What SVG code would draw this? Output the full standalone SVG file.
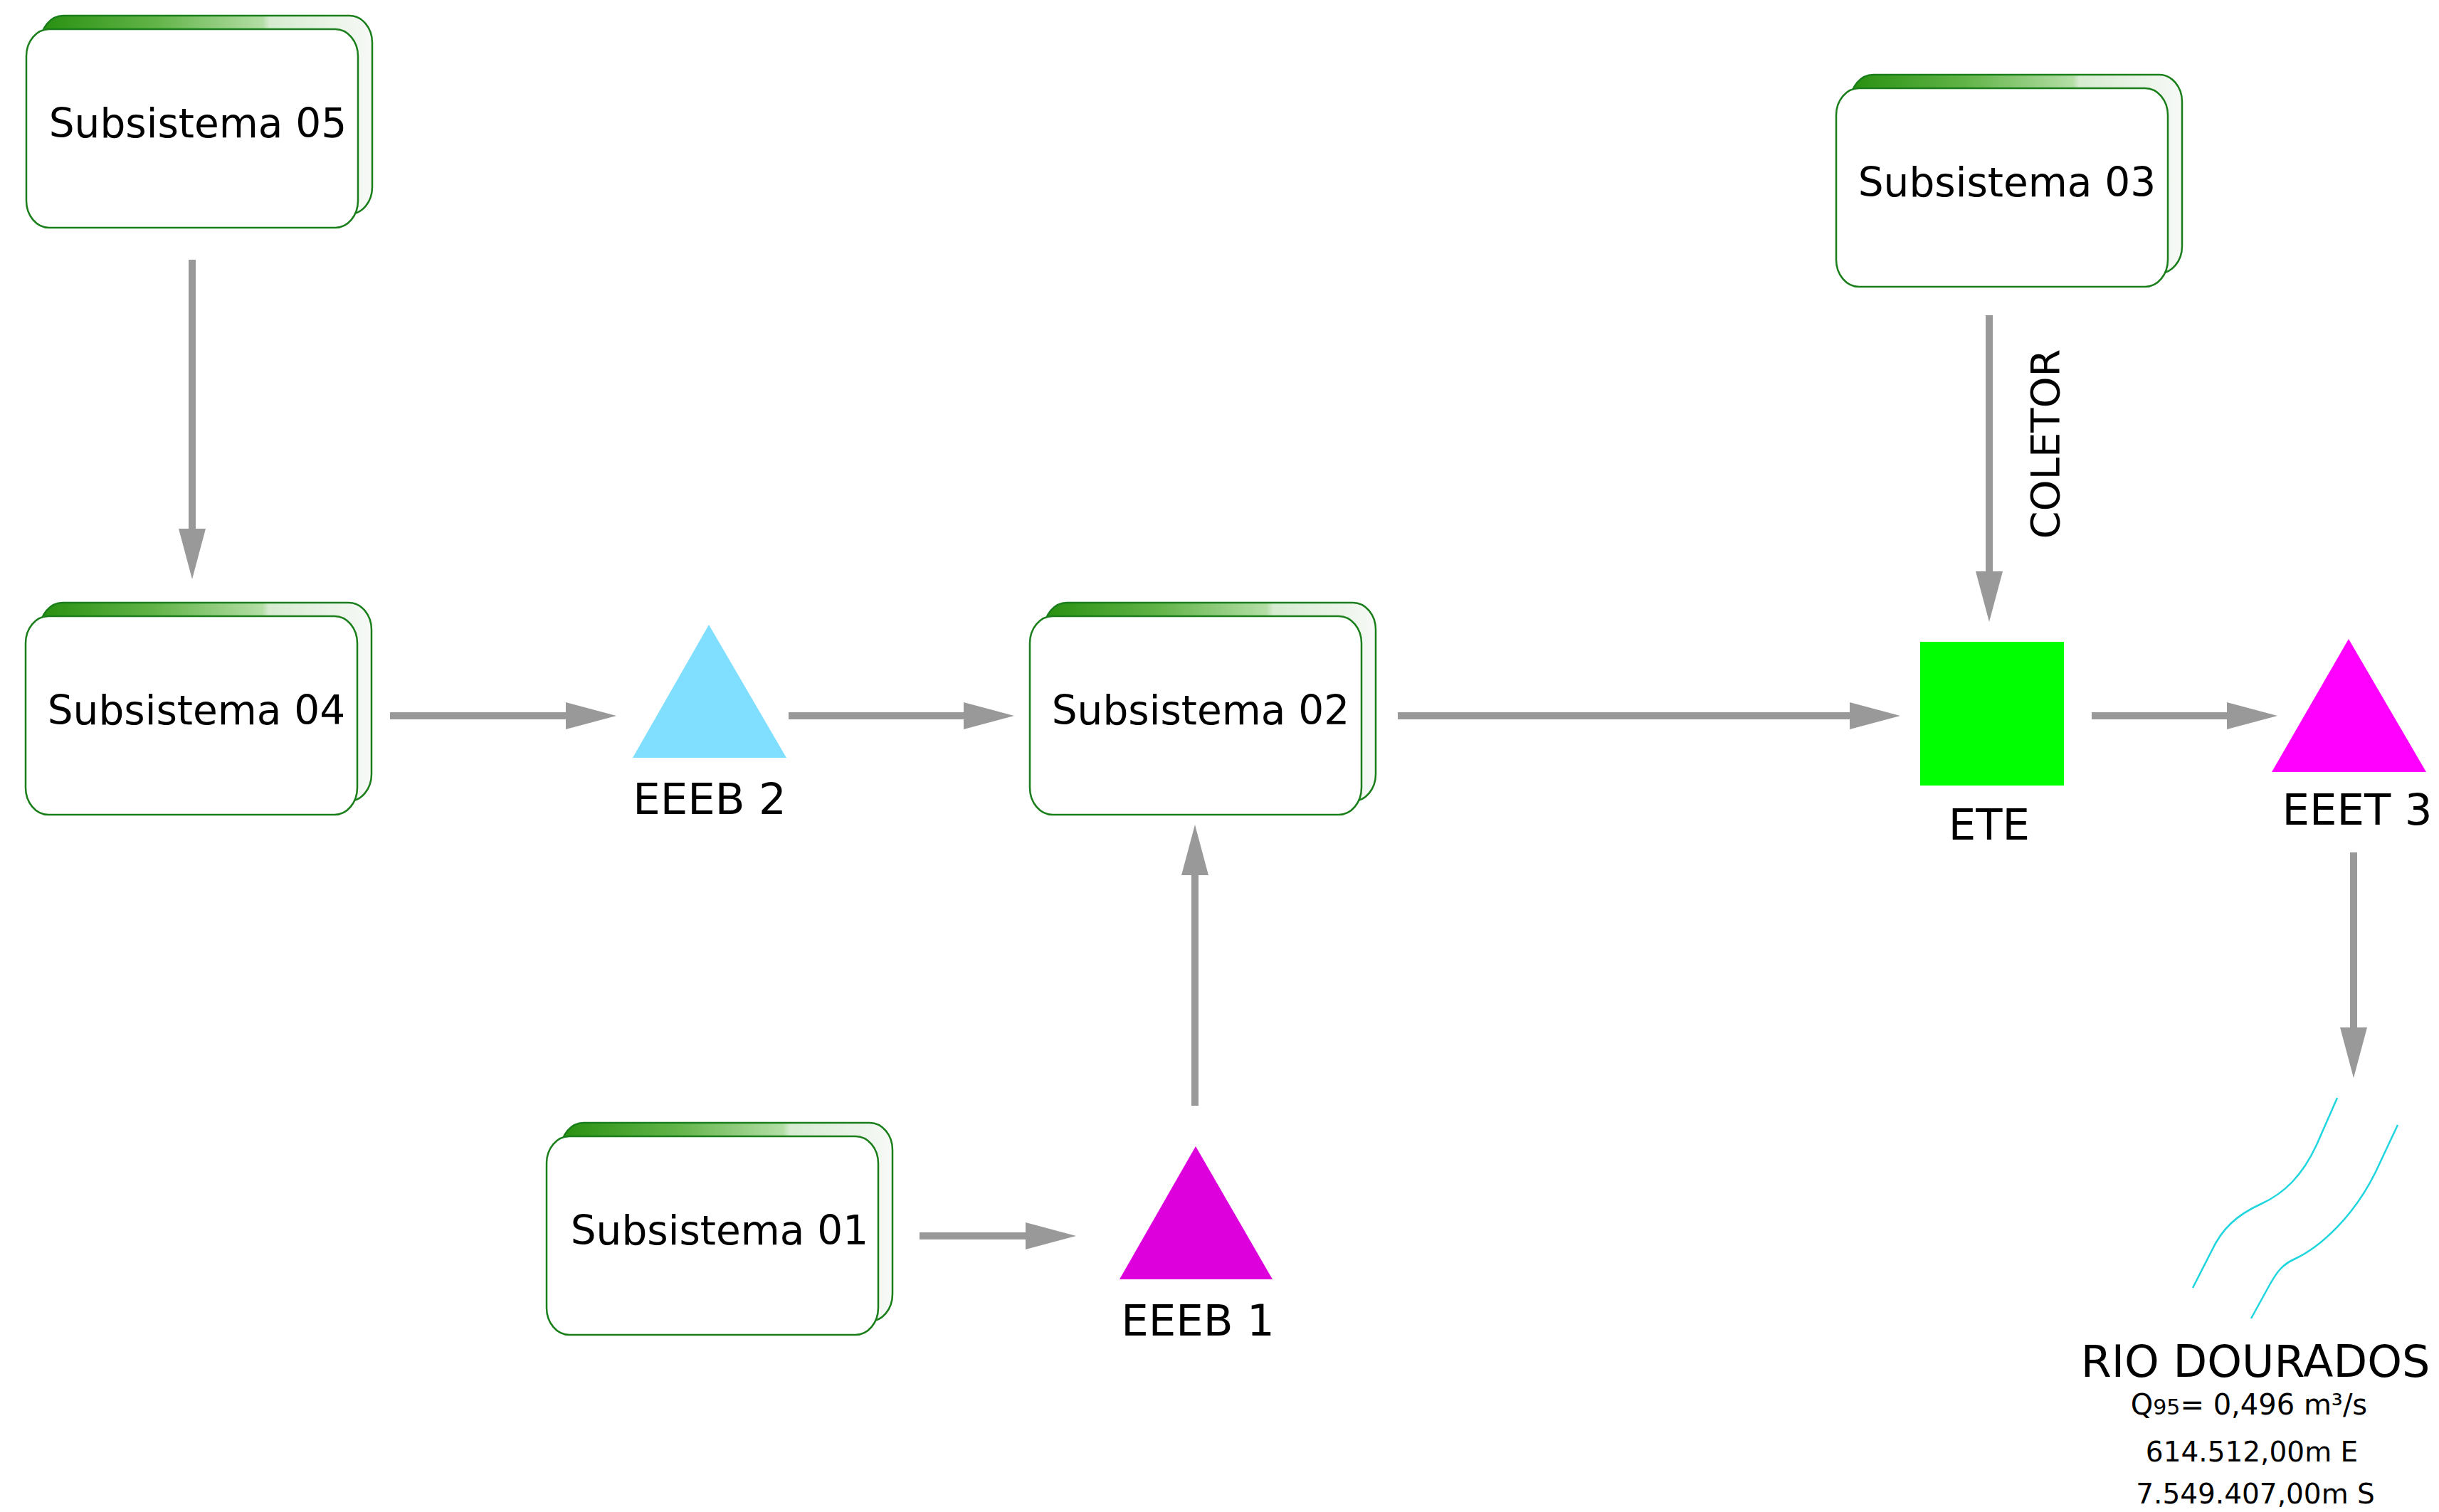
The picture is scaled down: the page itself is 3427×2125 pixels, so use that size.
<svg xmlns="http://www.w3.org/2000/svg" width="3427" height="2125" viewBox="0 0 3427 2125">
<defs>
<linearGradient id="bk" x1="0" y1="0" x2="1" y2="0">
<stop offset="0" stop-color="#289010"/>
<stop offset="0.35" stop-color="#62b448"/>
<stop offset="0.67" stop-color="#b4dea6"/>
<stop offset="0.69" stop-color="#d6ebd0"/>
<stop offset="1" stop-color="#f7f9f7"/>
</linearGradient>
<marker id="ah" markerUnits="userSpaceOnUse" markerWidth="72" markerHeight="40" refX="0" refY="19" orient="auto" viewBox="0 0 72 40">
<path d="M0,0 L71,19 L0,38 Z" fill="#999999"/>
</marker>
<style>
.back{fill:url(#bk);stroke:#1a7f1a;stroke-width:2.5}
.front{fill:#ffffff;stroke:#1a7f1a;stroke-width:2.5}
.lbl{font-family:"DejaVu Sans","Liberation Sans",sans-serif;fill:#000000}
.sub{font-size:56.5px;text-anchor:middle}
.node{font-size:61px;text-anchor:middle}
.conn{stroke:#999999;stroke-width:10;fill:none;marker-end:url(#ah)}
.river{stroke:#1fd6de;stroke-width:2.5;fill:none}
</style>
</defs>
<rect width="3427" height="2125" fill="#ffffff"/>

<g id="subsistema05">
<rect class="back" x="57" y="22" width="466" height="279" rx="32" ry="38"/>
<rect class="front" x="37" y="41" width="466" height="279" rx="32" ry="38"/>
<text class="lbl sub" x="278" y="193">Subsistema 05</text>
</g>
<g id="subsistema04">
<rect class="back" x="56" y="847" width="466" height="279" rx="32" ry="38"/>
<rect class="front" x="36" y="866" width="466" height="279" rx="32" ry="38"/>
<text class="lbl sub" x="276" y="1018">Subsistema 04</text>
</g>
<g id="subsistema02">
<rect class="back" x="1467" y="847" width="466" height="279" rx="32" ry="38"/>
<rect class="front" x="1447" y="866" width="466" height="279" rx="32" ry="38"/>
<text class="lbl sub" x="1687" y="1018">Subsistema 02</text>
</g>
<g id="subsistema03">
<rect class="back" x="2600" y="105" width="466" height="279" rx="32" ry="38"/>
<rect class="front" x="2580" y="124" width="466" height="279" rx="32" ry="38"/>
<text class="lbl sub" x="2820" y="276">Subsistema 03</text>
</g>
<g id="subsistema01">
<rect class="back" x="788" y="1578" width="466" height="279" rx="32" ry="38"/>
<rect class="front" x="768" y="1597" width="466" height="279" rx="32" ry="38"/>
<text class="lbl sub" x="1011" y="1749">Subsistema 01</text>
</g>

<g id="eeeb2">
<polygon points="996,878 889,1065 1105,1065" fill="#80dfff"/>
<text class="lbl node" x="997" y="1144">EEEB 2</text>
</g>
<g id="eeeb1">
<polygon points="1680,1611 1573,1798 1788,1798" fill="#dd00dd"/>
<text class="lbl node" x="1683" y="1877">EEEB 1</text>
</g>
<g id="ete">
<rect x="2698" y="902" width="202" height="202" fill="#00ff00"/>
<text class="lbl node" x="2795" y="1180">ETE</text>
</g>
<g id="eeet3">
<polygon points="3300,898 3192,1085 3409,1085" fill="#ff00ff"/>
<text class="lbl node" x="3312" y="1159">EEET 3</text>
</g>
<g id="rio">
<path class="river" d="M3284,1543 L3255,1609 C3235,1652 3210,1677 3177,1692 C3142,1708 3122,1727 3107,1759 L3081,1810"/>
<path class="river" d="M3369,1581 L3338,1647 C3308,1708 3262,1752 3223,1770 C3205,1778 3197,1792 3190,1804 L3163,1853"/>
<text class="lbl" x="3169" y="1935" font-size="62" text-anchor="middle">RIO DOURADOS</text>
<text class="lbl" x="3160" y="1988" font-size="40" text-anchor="middle">Q<tspan font-size="30">95</tspan>= 0,496 m³/s</text>
<text class="lbl" x="3164" y="2054" font-size="39" text-anchor="middle">614.512,00m E</text>
<text class="lbl" x="3169" y="2113" font-size="39" text-anchor="middle">7.549.407,00m S</text>
</g>

<g id="connectors">
<line class="conn" x1="270" y1="365" x2="270" y2="743"/>
<line class="conn" x1="548" y1="1006" x2="795" y2="1006"/>
<line class="conn" x1="1108" y1="1006" x2="1354" y2="1006"/>
<line class="conn" x1="1964" y1="1006" x2="2599" y2="1006"/>
<line class="conn" x1="2939" y1="1006" x2="3129" y2="1006"/>
<line class="conn" x1="2795" y1="443" x2="2795" y2="803"/>
<line class="conn" x1="3307" y1="1198" x2="3307" y2="1444"/>
<line class="conn" x1="1292" y1="1737" x2="1441" y2="1737"/>
<line class="conn" x1="1679" y1="1554" x2="1679" y2="1230"/>
<text class="lbl" transform="translate(2893,624) rotate(-90)" font-size="56" text-anchor="middle">COLETOR</text>
</g>
</svg>
